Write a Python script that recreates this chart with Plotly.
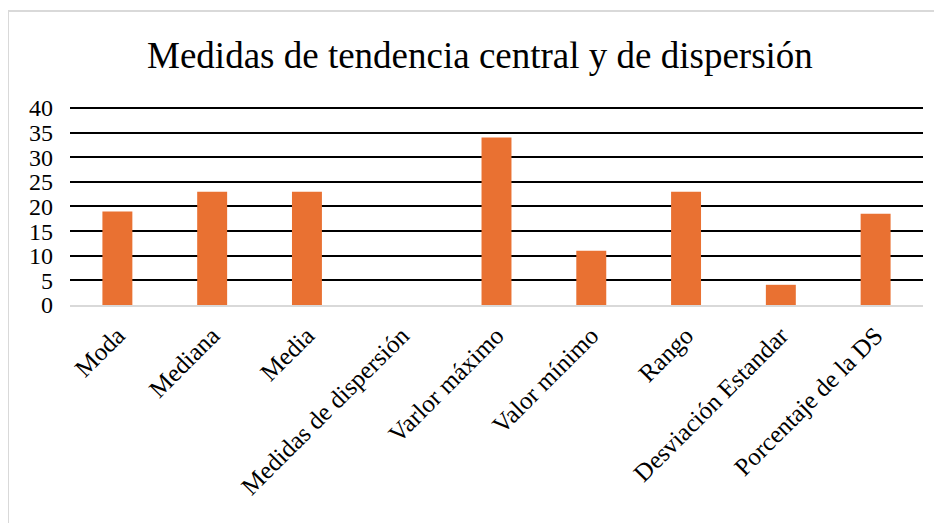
import plotly.graph_objects as go

categories = ["Moda", "Mediana", "Media", "Medidas de dispersión", "Varlor máximo",
              "Valor mínimo", "Rango", "Desviación Estandar", "Porcentaje de la DS"]
values = [19, 23, 23, None, 34, 11, 23, 4.1, 18.5]
y_ticks = [0, 5, 10, 15, 20, 25, 30, 35, 40]

serif = "Times New Roman, Liberation Serif, DejaVu Serif, serif"

fig = go.Figure(go.Bar(x=categories, y=values, marker_color="#E97132",
                       marker_line_width=0))

fig.update_layout(
    width=942, height=523,
    margin=dict(l=62, r=27, t=97, b=226, autoexpand=False),
    paper_bgcolor="white", plot_bgcolor="white",
    font=dict(family=serif, color="black", size=24),
    title=dict(text="Medidas de tendencia central y de dispersión",
               x=0.501, xanchor="center", y=0.91, yanchor="middle",
               font=dict(size=37, family=serif, color="black")),
    bargap=0.684,
    showlegend=False,
    shapes=[dict(type="rect", xref="paper", yref="paper",
                 x0=-0.0727, x1=1.05, y0=-1.2, y1=1.47,
                 line=dict(color="#d9d9d9", width=2))],
)
# rango un poco por encima de 40 para que se dibuje la línea superior
fig.update_yaxes(range=[0, 40.6], tickvals=y_ticks, showgrid=True,
                 gridcolor="black", gridwidth=2, zeroline=False,
                 showline=False, ticks="", ticklabelstandoff=16,
                 tickfont=dict(size=24), automargin=False)
fig.update_xaxes(tickangle=-45, showline=True, linecolor="#d9d9d9",
                 linewidth=2, ticks="", showgrid=False, automargin=False,
                 tickfont=dict(size=25), ticklabelstandoff=4)

fig.write_html("out.html")
